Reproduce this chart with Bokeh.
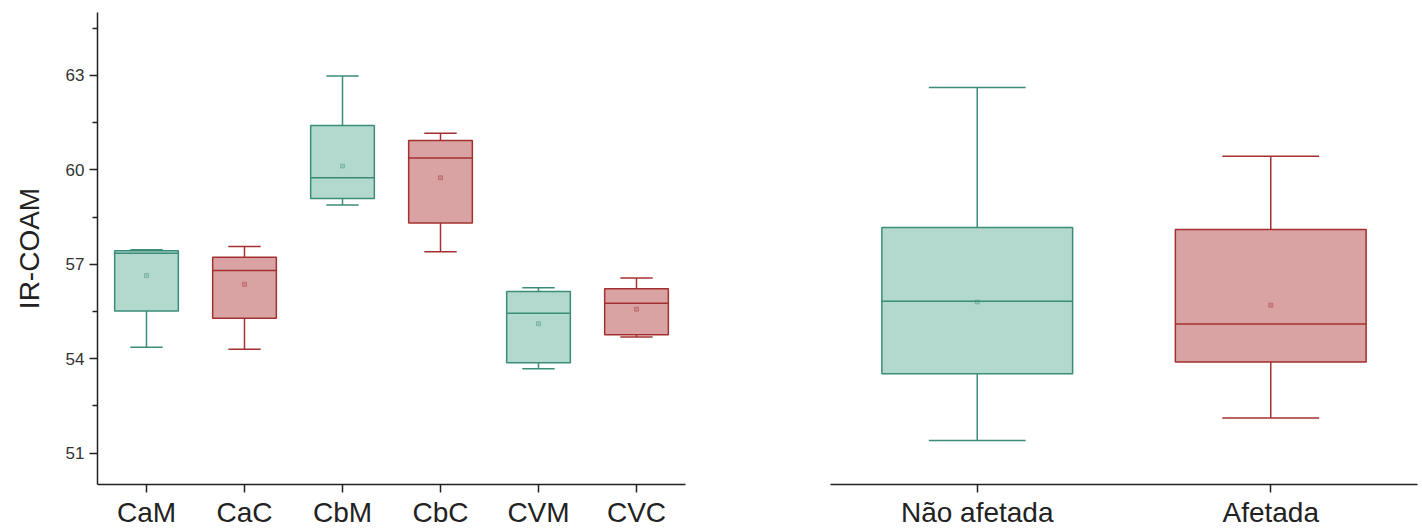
from bokeh.plotting import figure
from bokeh.models import ColumnDataSource, FactorRange, Range1d, FixedTicker
from bokeh.transform import dodge
from bokeh.layouts import row
from bokeh.embed import file_html
from bokeh.resources import INLINE

# ---- data ----
groups = ["CaM", "CaC", "CbM", "CbC", "CVM", "CVC"]
g_low = [54.36, 54.30, 58.88, 57.40, 53.68, 54.69]
g_q1 = [55.51, 55.28, 59.09, 58.31, 53.87, 54.76]
g_med = [57.35, 56.80, 59.75, 60.38, 55.44, 55.76]
g_q3 = [57.43, 57.22, 61.41, 60.93, 56.13, 56.22]
g_high = [57.46, 57.56, 62.98, 61.16, 56.25, 56.56]
g_mean = [56.64, 56.36, 60.12, 59.75, 55.11, 55.57]

status = ["Não afetada", "Afetada"]
s_low = [51.40, 52.11]
s_q1 = [53.52, 53.89]
s_med = [55.82, 55.10]
s_q3 = [58.17, 58.10]
s_high = [62.62, 60.43]
s_mean = [55.80, 55.70]

y_ticks = [51, 54, 57, 60, 63]
y_minor = [52.5, 55.5, 58.5, 61.5, 64.5]

TEAL_FILL, TEAL_LINE = "#b3d8cd", "#3b8c79"
RED_FILL, RED_LINE = "#d9a3a4", "#a3302f"
FONT = "Liberation Sans"

y_range = Range1d(50, 65)


def make_fig(cats, width, border_left, border_right):
    p = figure(x_range=FactorRange(*cats), y_range=y_range, width=width, height=530,
               output_backend="svg", toolbar_location=None,
               min_border_left=border_left, min_border_right=border_right,
               min_border_top=12, min_border_bottom=46)
    p.xgrid.visible = False
    p.ygrid.visible = False
    p.outline_line_color = None
    p.background_fill_color = "white"
    p.border_fill_color = "white"
    ax = p.xaxis[0]
    ax.axis_line_width = 1.5
    ax.axis_line_color = "#222222"
    ax.major_tick_line_color = "#222222"
    ax.major_tick_line_width = 1.5
    ax.major_tick_in = 0
    ax.major_tick_out = 8
    ax.minor_tick_line_color = None
    ax.major_label_text_font = FONT
    ax.major_label_text_font_size = "28px"
    ax.major_label_text_color = "#222222"
    ax.major_label_standoff = 4
    return p


def draw(p, cats, low, q1, med, q3, high, mean):
    fills = [TEAL_FILL if i % 2 == 0 else RED_FILL for i in range(len(cats))]
    lines = [TEAL_LINE if i % 2 == 0 else RED_LINE for i in range(len(cats))]
    src = ColumnDataSource(dict(cat=cats, low=low, q1=q1, med=med, q3=q3,
                                high=high, mean=mean, fill=fills, line=lines))
    p.segment(x0="cat", y0="q3", x1="cat", y1="high", line_color="line",
              line_width=1.5, source=src)
    p.segment(x0="cat", y0="low", x1="cat", y1="q1", line_color="line",
              line_width=1.5, source=src)
    p.vbar(x="cat", width=0.65, bottom="q1", top="q3", fill_color="fill",
           line_color="line", line_width=1.5, source=src)
    for col in ("high", "low"):
        p.segment(x0=dodge("cat", -0.165, range=p.x_range), y0=col,
                  x1=dodge("cat", 0.165, range=p.x_range), y1=col,
                  line_color="line", line_width=1.5, source=src)
    p.segment(x0=dodge("cat", -0.325, range=p.x_range), y0="med",
              x1=dodge("cat", 0.325, range=p.x_range), y1="med",
              line_color="line", line_width=1.5, source=src)
    p.scatter(x="cat", y="mean", marker="square", size=4, fill_color="line",
              fill_alpha=0.25, line_color="line", line_alpha=0.35, source=src)


p1 = make_fig(groups, 697, 97, 12)
draw(p1, groups, g_low, g_q1, g_med, g_q3, g_high, g_mean)
ya = p1.yaxis[0]
ya.ticker = FixedTicker(ticks=y_ticks, minor_ticks=y_minor)
ya.axis_line_width = 1.5
ya.axis_line_color = "#222222"
ya.major_tick_line_color = "#222222"
ya.major_tick_line_width = 1.5
ya.minor_tick_line_color = "#222222"
ya.minor_tick_line_width = 1.5
ya.major_tick_in = 0
ya.major_tick_out = 8
ya.minor_tick_in = 0
ya.minor_tick_out = 5
ya.major_label_text_font = FONT
ya.major_label_text_font_size = "17px"
ya.major_label_text_color = "#333333"
ya.major_label_standoff = 5
ya.axis_label = "IR-COAM"
ya.axis_label_text_font = FONT
ya.axis_label_text_font_size = "28px"
ya.axis_label_text_font_style = "normal"
ya.axis_label_text_color = "#222222"
ya.axis_label_standoff = 18

p2 = make_fig(status, 722, 133, 2)
draw(p2, status, s_low, s_q1, s_med, s_q3, s_high, s_mean)
p2.yaxis.visible = False

layout = row(p1, p2)
open("out.html", "w").write(file_html(layout, INLINE))
